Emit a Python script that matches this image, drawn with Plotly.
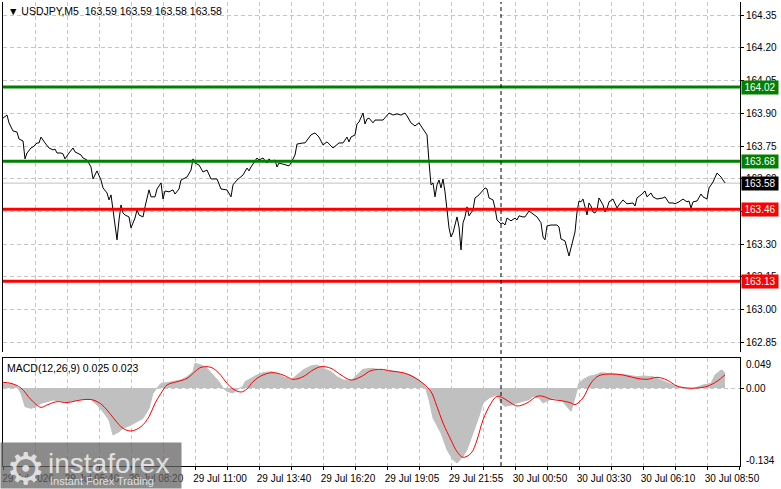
import plotly.graph_objects as go

# USDJPY M5 - closes (bar index -> price)
price_bar = [0, 2, 3, 5, 7, 8, 10, 11, 12, 14, 15, 17, 18, 19, 21, 23, 25, 26, 27, 29,
             30, 31, 33, 35, 36, 39, 40, 42, 44, 45, 47, 49, 50, 52, 53, 54, 55, 56, 57, 58,
             59, 60, 61, 63, 64, 66, 67, 68, 70, 71, 72, 73, 74, 76, 77, 79, 80, 81, 83, 85,
             86, 88, 89, 91, 92, 94, 95, 96, 98, 100, 102, 104, 107, 109, 112, 114, 115, 117, 120, 122,
             123, 124, 127, 128, 130, 132, 133, 134, 136, 137, 138, 143, 144, 146, 147, 150, 151, 154, 156, 158,
             160, 162, 163, 165, 168, 170, 172, 173, 174, 176, 177, 178, 180, 181, 182, 183, 185, 186, 190, 193,
             195, 197, 199, 201, 202, 204, 206, 208, 210, 212, 213, 214, 215, 216, 217, 218, 219, 220, 221, 222,
             223, 224, 225, 227, 228, 229, 230, 231, 232, 233, 235, 236, 238, 241, 242, 243, 245, 246, 247, 249,
             250, 251, 252, 254, 256, 257, 258, 260, 261, 263, 265, 267, 269, 270, 271, 272, 274, 277, 278, 279,
             281, 282, 283, 284, 286, 287, 288, 289, 290, 291, 292, 293, 294, 295, 296, 297, 298, 300, 301, 302,
             303, 305, 307, 308, 310, 312, 315, 316, 317, 319, 321, 322, 324, 325, 327, 330, 331, 333, 335, 336,
             338, 340, 342, 343, 344, 345, 347, 349, 350, 352, 353, 355, 357, 358, 359, 360, 361]
price = [163.878, 163.892, 163.856, 163.819, 163.814, 163.782, 163.773, 163.691, 163.718, 163.741,
         163.746, 163.764, 163.764, 163.791, 163.764, 163.741, 163.732, 163.736, 163.718, 163.718,
         163.714, 163.691, 163.718, 163.741, 163.723, 163.709, 163.695, 163.686, 163.654, 163.599,
         163.636, 163.594, 163.558, 163.535, 163.503, 163.526, 163.457, 163.379, 163.320, 163.411,
         163.480, 163.443, 163.434, 163.425, 163.375, 163.420, 163.457, 163.434, 163.425, 163.471,
         163.507, 163.549, 163.517, 163.517, 163.553, 163.581, 163.507, 163.544, 163.540, 163.549,
         163.530, 163.553, 163.594, 163.604, 163.608, 163.640, 163.691, 163.672, 163.663, 163.631,
         163.640, 163.599, 163.599, 163.553, 163.549, 163.517, 163.572, 163.594, 163.617, 163.649,
         163.636, 163.654, 163.695, 163.686, 163.695, 163.672, 163.691, 163.677, 163.686, 163.654,
         163.672, 163.659, 163.672, 163.709, 163.759, 163.764, 163.764, 163.801, 163.810, 163.791,
         163.755, 163.769, 163.759, 163.741, 163.764, 163.764, 163.791, 163.769, 163.791, 163.801,
         163.851, 163.860, 163.901, 163.851, 163.874, 163.878, 163.856, 163.869, 163.869, 163.901,
         163.892, 163.897, 163.892, 163.901, 163.888, 163.856, 163.842, 163.856, 163.828, 163.801,
         163.677, 163.572, 163.581, 163.517, 163.572, 163.594, 163.558, 163.599, 163.540, 163.457,
         163.375, 163.333, 163.352, 163.425, 163.379, 163.274, 163.398, 163.425, 163.471, 163.430,
         163.457, 163.512, 163.526, 163.558, 163.553, 163.512, 163.503, 163.466, 163.411, 163.393,
         163.398, 163.388, 163.420, 163.407, 163.420, 163.411, 163.430, 163.425, 163.425, 163.452,
         163.439, 163.425, 163.398, 163.333, 163.320, 163.384, 163.388, 163.388, 163.379, 163.324,
         163.315, 163.274, 163.246, 163.283, 163.356, 163.448, 163.498, 163.494, 163.507, 163.471,
         163.434, 163.489, 163.475, 163.448, 163.443, 163.457, 163.512, 163.480, 163.448, 163.462,
         163.494, 163.507, 163.466, 163.480, 163.503, 163.485, 163.489, 163.475, 163.512, 163.526,
         163.544, 163.517, 163.535, 163.517, 163.507, 163.512, 163.517, 163.489, 163.489, 163.485,
         163.494, 163.507, 163.494, 163.498, 163.466, 163.494, 163.498, 163.530, 163.517, 163.507,
         163.558, 163.585, 163.626, 163.617, 163.608, 163.594, 163.581]

# MACD(12,26,9) main (histogram) and signal
hist_bar = [0, 5, 7, 9, 11, 14, 16, 19, 22, 25, 32, 39, 44, 47, 50, 53, 55, 58, 60, 64,
            67, 70, 73, 75, 77, 79, 82, 85, 89, 92, 95, 96, 99, 102, 105, 108, 110, 112, 115, 117,
            120, 121, 124, 127, 130, 134, 137, 140, 144, 147, 150, 154, 157, 160, 164, 167, 170, 174, 177, 180,
            184, 189, 194, 199, 204, 209, 211, 213, 215, 219, 222, 225, 227, 230, 232, 235, 238, 240, 243, 245,
            247, 249, 251, 255, 257, 260, 263, 265, 268, 270, 273, 275, 279, 282, 284, 285, 288, 290, 293, 296,
            299, 302, 307, 312, 317, 320, 325, 330, 335, 339, 344, 347, 350, 354, 356, 359, 360, 361]
hist = [0.0075, 0.0070, 0.0020, -0.0093, -0.0325, -0.0354, -0.0337, -0.0267, -0.0238, -0.0209,
        -0.0238, -0.0198, -0.0198, -0.0296, -0.0412, -0.0557, -0.0819, -0.0761, -0.0703, -0.0645,
        -0.0587, -0.0528, -0.0354, -0.0093, 0.0000, 0.0082, 0.0093, 0.0110, 0.0139, 0.0197,
        0.0285, 0.0430, 0.0401, 0.0343, 0.0227, 0.0110, 0.0000, -0.0058, -0.0087, -0.0029,
        0.0029, 0.0110, 0.0168, 0.0227, 0.0267, 0.0285, 0.0256, 0.0197, 0.0139, 0.0227,
        0.0314, 0.0383, 0.0401, 0.0343, 0.0285, 0.0197, 0.0139, 0.0128, 0.0227, 0.0325,
        0.0343, 0.0314, 0.0300, 0.0267, 0.0227, 0.0110, 0.0029, -0.0203, -0.0523, -0.0784,
        -0.1074, -0.1249, -0.1307, -0.1191, -0.1074, -0.0784, -0.0494, -0.0261, -0.0174, -0.0145,
        -0.0116, -0.0261, -0.0319, -0.0290, -0.0261, -0.0232, -0.0203, -0.0145, -0.0174, -0.0261,
        -0.0203, -0.0174, -0.0203, -0.0319, -0.0406, -0.0290, 0.0087, 0.0145, 0.0203, 0.0226,
        0.0267, 0.0255, 0.0244, 0.0226, 0.0197, 0.0209, 0.0197, 0.0128, 0.0052, 0.0012,
        -0.0023, 0.0012, 0.0052, 0.0081, 0.0226, 0.0313, 0.0302, 0.0250]

signal_bar = [0, 4, 9, 14, 19, 22, 27, 32, 37, 42, 45, 49, 52, 56, 60, 64, 69, 73, 76, 79,
              82, 87, 92, 96, 99, 104, 108, 112, 115, 119, 122, 125, 130, 135, 140, 145, 150, 155, 159, 164,
              169, 174, 179, 184, 189, 194, 200, 205, 210, 214, 217, 220, 224, 227, 230, 234, 237, 240, 244, 247,
              250, 254, 257, 262, 267, 270, 274, 279, 284, 286, 290, 294, 298, 304, 310, 317, 322, 327, 332, 337,
              342, 347, 352, 357, 361]
signal = [0.0098, 0.0081, 0.0000, -0.0203, -0.0337, -0.0296, -0.0238, -0.0255, -0.0220, -0.0198,
          -0.0209, -0.0279, -0.0383, -0.0557, -0.0703, -0.0749, -0.0674, -0.0500, -0.0267, -0.0093,
          0.0052, 0.0110, 0.0168, 0.0285, 0.0360, 0.0360, 0.0256, 0.0081, -0.0017, -0.0070,
          -0.0017, 0.0110, 0.0227, 0.0267, 0.0227, 0.0151, 0.0197, 0.0314, 0.0372, 0.0343,
          0.0227, 0.0139, 0.0197, 0.0302, 0.0325, 0.0295, 0.0267, 0.0197, 0.0081, -0.0064,
          -0.0325, -0.0610, -0.0906, -0.1109, -0.1208, -0.1138, -0.0906, -0.0557, -0.0267, -0.0145,
          -0.0174, -0.0261, -0.0313, -0.0261, -0.0145, -0.0145, -0.0197, -0.0220, -0.0261, -0.0290,
          -0.0174, 0.0087, 0.0215, 0.0244, 0.0226, 0.0168, 0.0151, 0.0186, 0.0139, 0.0035,
          0.0000, 0.0000, 0.0029, 0.0116, 0.0230]

# support / resistance levels
green_levels = [164.02, 163.68]
red_levels = [163.46, 163.13]
last_price = 163.58
separator_bar = 249

price_ticks = [162.85, 163.00, 163.15, 163.30, 163.45, 163.60, 163.75, 163.90, 164.05, 164.20, 164.35]
time_ticks = list(range(0, 369, 16))
time_labels = ["29 Jul 2026", "", "29 Jul 05:40", "", "29 Jul 08:20", "", "29 Jul 11:00", "",
               "29 Jul 13:40", "", "29 Jul 16:20", "", "29 Jul 19:05", "", "29 Jul 21:55", "",
               "30 Jul 00:50", "", "30 Jul 03:30", "", "30 Jul 06:10", "", "30 Jul 08:50", ""]

FONT = "Liberation Sans"
GRID = "#c6c6c6"

fig = go.Figure()

fig.add_trace(go.Scatter(x=hist_bar, y=hist, mode="lines", fill="tozeroy",
                         fillcolor="#c0c0c0", line=dict(color="#c0c0c0", width=1),
                         xaxis="x", yaxis="y2", hoverinfo="skip"))
fig.add_trace(go.Scatter(x=signal_bar, y=signal, mode="lines", line=dict(color="#ff0000", width=1, shape="spline"),
                         xaxis="x", yaxis="y2", hoverinfo="skip"))
fig.add_trace(go.Scatter(x=price_bar, y=price, mode="lines", line=dict(color="#000000", width=1),
                         xaxis="x", yaxis="y", hoverinfo="skip"))

# bid line + levels
fig.add_hline(y=last_price, line=dict(color="#c0c0c0", width=1), yref="y", layer="below")
for lv in green_levels:
    fig.add_hline(y=lv, line=dict(color="#008000", width=3), yref="y")
for lv in red_levels:
    fig.add_hline(y=lv, line=dict(color="#ff0000", width=3), yref="y")

# day separator
fig.add_shape(type="line", x0=separator_bar, x1=separator_bar, xref="x", y0=0, y1=1, yref="paper",
              line=dict(color="#000000", width=1, dash="4px,3px"))

axis_common = dict(showline=True, linecolor="#000000", linewidth=1, mirror=True,
                   gridcolor=GRID, griddash="4px,3px", gridwidth=1, zeroline=False,
                   tickfont=dict(family=FONT, size=10, color="#000000"), ticks="outside",
                   ticklen=3, tickcolor="#000000", automargin=False, fixedrange=True)

fig.update_layout(
    width=781, height=489,
    margin=dict(l=3, r=41, t=2, b=23),
    paper_bgcolor="#ffffff", plot_bgcolor="#ffffff",
    showlegend=False,
    xaxis=dict(axis_common, range=[0, 368.5], anchor="y2", tickvals=time_ticks, ticktext=time_labels,
               ticklabelshift=25, ticklabelstandoff=0),
    yaxis=dict(axis_common, domain=[0.2457, 1], range=[162.806, 164.41], side="right",
               tickvals=price_ticks, tickformat=".2f"),
    yaxis2=dict(axis_common, domain=[0, 0.2328], range=[-0.1359, 0.0523], side="right",
                tickvals=[0], ticktext=["0.00"]),
)

# extra MACD scale labels (max/min of window)
for val, txt in [(0.041, "0.049"), (-0.127, "-0.134")]:
    fig.add_annotation(x=1, xref="paper", xanchor="left", xshift=4, y=val, yref="y2",
                       text=txt, showarrow=False, font=dict(family=FONT, size=10, color="#000000"))

# price tags on the right axis
tags = [(v, "#008000") for v in green_levels] + [(v, "#ff0000") for v in red_levels] + [(last_price, "#000000")]
for val, col in tags:
    fig.add_annotation(x=1, xref="paper", xanchor="left", xshift=1, y=val, yref="y",
                       text=f"{val:.2f}", showarrow=False, bgcolor=col, width=34, height=11,
                       borderpad=1, font=dict(family=FONT, size=10, color="#ffffff"))

# headers
fig.add_annotation(x=0, xref="paper", xanchor="left", xshift=3, y=1, yref="paper", yanchor="top", yshift=-1,
                   text="▼ USDJPY,M5  163.59 163.59 163.58 163.58", showarrow=False,
                   font=dict(family=FONT, size=10.5, color="#000000"))
fig.add_annotation(x=0, xref="paper", xanchor="left", xshift=2, y=1, yref="y2 domain", yanchor="top", yshift=-2,
                   text="MACD(12,26,9) 0.025 0.023", showarrow=False,
                   font=dict(family=FONT, size=10.5, color="#000000"))

# watermark logo
fig.add_annotation(x=-0.0041, xref="paper", xanchor="left", y=-0.0496, yref="paper", yanchor="bottom",
                   text=" ", showarrow=False, width=180, height=45, bgcolor="rgba(100,100,100,0.75)",
                   borderpad=0)
fig.add_annotation(x=0.002, xref="paper", xanchor="left", y=-0.006, yref="paper", yanchor="middle",
                   text="⚙", showarrow=False, font=dict(family="DejaVu Sans", size=44, color="rgba(235,235,235,0.9)"))
fig.add_annotation(x=0.058, xref="paper", xanchor="left", y=0.006, yref="paper", yanchor="middle",
                   text="instaforex", showarrow=False,
                   font=dict(family="Liberation Sans", size=28, color="rgba(235,235,235,0.9)"))
fig.add_annotation(x=0.061, xref="paper", xanchor="left", y=-0.032, yref="paper", yanchor="middle",
                   text="Instant Forex Trading", showarrow=False,
                   font=dict(family="Liberation Sans", size=11, color="rgba(235,235,235,0.9)"))

fig.write_html("out.html", config={"displayModeBar": False},
               post_script="document.body.style.margin='0';")
